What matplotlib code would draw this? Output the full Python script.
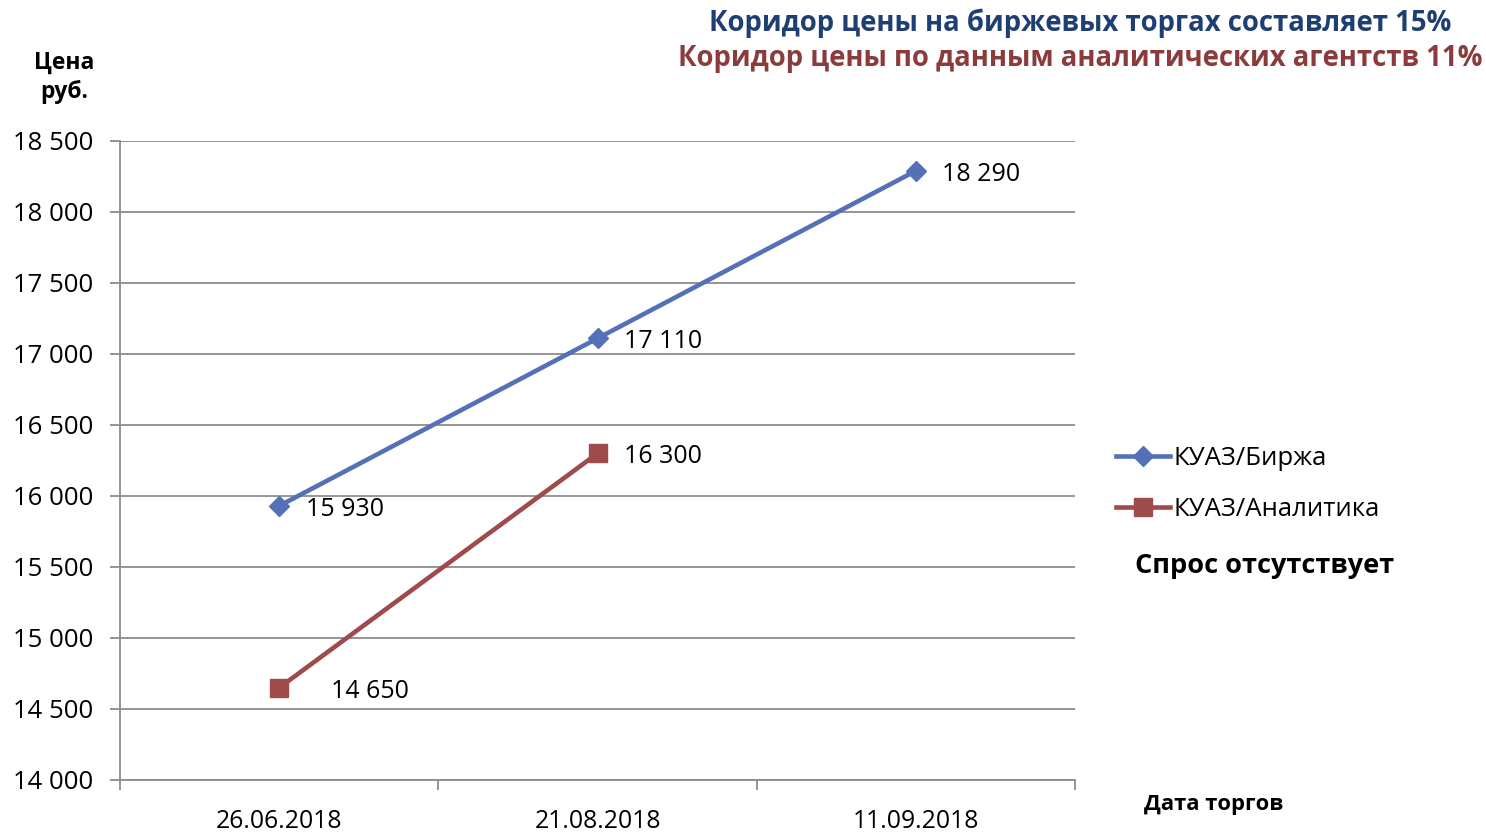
import numpy as np
import matplotlib.pyplot as plt

plt.rcParams['font.family'] = ['Open Sans', 'DejaVu Sans']

dates = ['26.06.2018', '21.08.2018', '11.09.2018']
birzha = [15930, 17110, 18290]
analitika = [14650, 16300]
yticks = np.arange(14000, 18501, 500)

blue = '#5470B6'
red = '#A04B4B'
grid_c = '#8C8C8C'

def fmt(v):
    return '{:,}'.format(v).replace(',', ' ')

fig = plt.figure(figsize=(14.86, 8.35), dpi=100)
ax = fig.add_axes([0.0808, 0.0659, 0.6427, 0.7653])

x1 = np.arange(len(birzha))
x2 = np.arange(len(analitika))
ax.plot(x1, birzha, color=blue, lw=3.3, marker='D', ms=10, label='КУАЗ/Биржа')
ax.plot(x2, analitika, color=red, lw=3.3, marker='s', ms=13, label='КУАЗ/Аналитика')

fs = 18
for x, v in zip(x1, birzha):
    ax.annotate(fmt(v), (x, v), xytext=(19, -2.5), textcoords='offset points',
                ha='left', va='center', fontsize=fs)
offs = [37, 19]
for x, v, o in zip(x2, analitika, offs):
    ax.annotate(fmt(v), (x, v), xytext=(o, -2.5), textcoords='offset points',
                ha='left', va='center', fontsize=fs)

ax.set_xlim(-0.5, 2.5)
ax.set_ylim(14000, 18500)
ax.set_yticks(yticks)
ax.set_yticklabels([fmt(v) for v in yticks], fontsize=18.5)
ax.set_xticks(np.arange(-0.5, 2.6, 1))
ax.set_xticklabels([])
ax.set_xticks(x1, minor=True)
ax.set_xticklabels(dates, minor=True, fontsize=17.8)
ax.tick_params(axis='x', which='minor', length=0, pad=21)
ax.tick_params(axis='x', which='major', length=7, color=grid_c, width=1.3)
ax.tick_params(axis='y', length=7, color=grid_c, width=1.3, pad=12)
ax.grid(axis='y', color=grid_c, lw=1.3)
ax.set_axisbelow(True)
for s in ['top', 'right']:
    ax.spines[s].set_visible(False)
for s in ['left', 'bottom']:
    ax.spines[s].set_color(grid_c)
    ax.spines[s].set_linewidth(1.3)

fig.legend(loc='upper left', bbox_to_anchor=(0.751, 0.466), frameon=False,
           fontsize=18.5, handlelength=2.1, handletextpad=0.15, labelspacing=1.03,
           borderpad=0, borderaxespad=0)

fig.text(0.727, 0.972, 'Коридор цены на биржевых торгах составляет 15%',
         ha='center', va='center', fontsize=19.8, fontweight='bold', color='#1F3E72')
fig.text(0.727, 0.930, 'Коридор цены по данным аналитических агентств 11%',
         ha='center', va='center', fontsize=19.8, fontweight='bold', color='#8B3B3B')
fig.text(0.043, 0.925, 'Цена', ha='center', va='center', fontsize=16.5, fontweight='bold')
fig.text(0.043, 0.890, 'руб.', ha='center', va='center', fontsize=16.5, fontweight='bold')
fig.text(0.817, 0.037, 'Дата торгов', ha='center', va='center', fontsize=15.8, fontweight='bold')
fig.text(0.851, 0.322, 'Спрос отсутствует', ha='center', va='center', fontsize=19.5, fontweight='bold')

fig.savefig('out.png', dpi=100)
